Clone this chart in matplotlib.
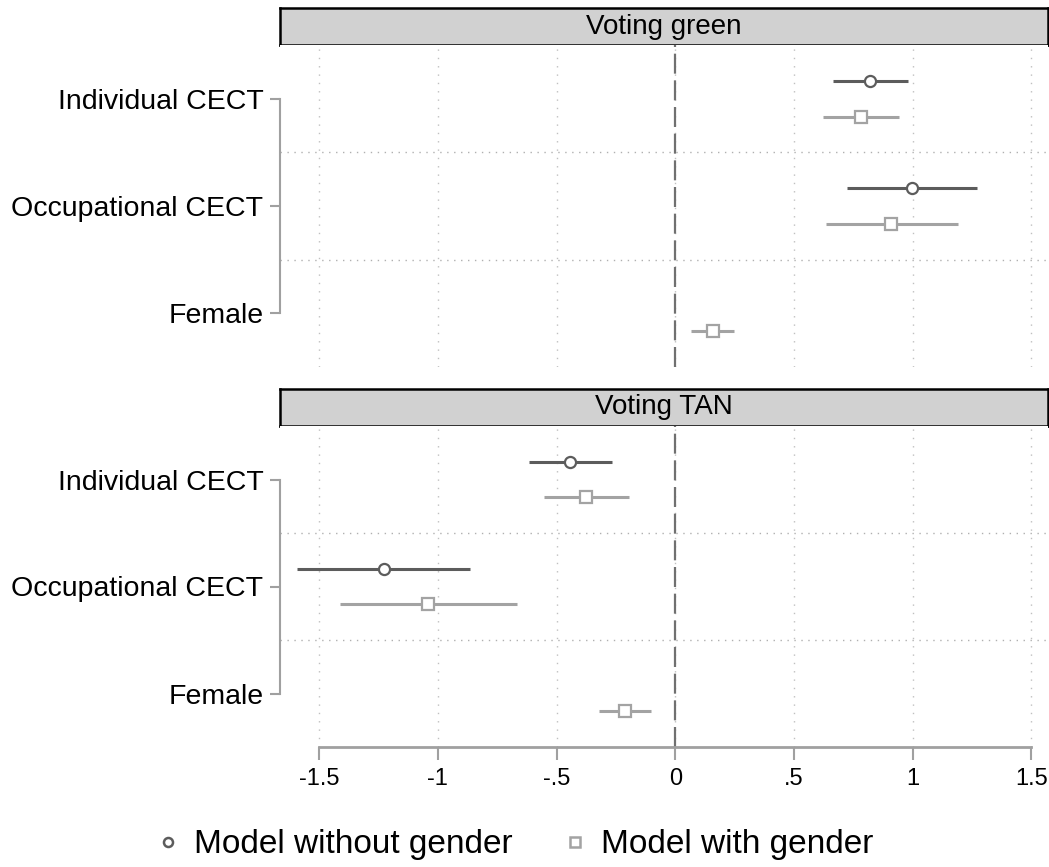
import matplotlib.pyplot as plt
from matplotlib.lines import Line2D

plt.rcParams['font.family'] = ['Liberation Sans', 'DejaVu Sans']

# coefficients and 95% intervals, rows: Individual CECT, Occupational CECT, Female
categories = ['Individual CECT', 'Occupational CECT', 'Female']
panels = ['Voting green', 'Voting TAN']

green_wo = [0.822, 0.997, None]
green_wo_lo = [0.665, 0.722, None]
green_wo_hi = [0.979, 1.273, None]
green_w = [0.781, 0.910, 0.157]
green_w_lo = [0.622, 0.634, 0.066]
green_w_hi = [0.941, 1.191, 0.249]

tan_wo = [-0.442, -1.228, None]
tan_wo_lo = [-0.618, -1.592, None]
tan_wo_hi = [-0.267, -0.863, None]
tan_w = [-0.374, -1.040, -0.212]
tan_w_lo = [-0.552, -1.412, -0.320]
tan_w_hi = [-0.195, -0.666, -0.104]

xticks = [-1.5, -1, -0.5, 0, 0.5, 1, 1.5]
xticklabels = ['-1.5', '-1', '-.5', '0', '.5', '1', '1.5']

DARK = '#5c5c5c'
LIGHT = '#a3a3a3'
AXIS_GRAY = '#a0a0a0'

fig = plt.figure(figsize=(10.49, 8.67), dpi=100)

W, H = 1049, 867
left = 280 / W
width = (1048 - 280) / W


def fy(top, bottom):
    return 1 - bottom / H, (bottom - top) / H


def draw_series(ax, est, lo, hi, offset, color, marker):
    for i, (e, l, h) in enumerate(zip(est, lo, hi)):
        if e is None:
            continue
        y = i + 1 + offset
        ax.plot([l, h], [y, y], color=color, lw=2.2, solid_capstyle='butt', zorder=3)
        ax.plot([e], [y], marker=marker, ms=8 if marker == 'o' else 8.5,
                mfc='white', mec=color, mew=1.6, ls='none', zorder=4)


layout = [((8, 45), (45, 367)), ((389, 426), (426, 747))]
data = [
    (green_wo, green_wo_lo, green_wo_hi, green_w, green_w_lo, green_w_hi),
    (tan_wo, tan_wo_lo, tan_wo_hi, tan_w, tan_w_lo, tan_w_hi),
]

for k, (title, (hdr, body), d) in enumerate(zip(panels, layout, data)):
    # header strip
    b, h = fy(*hdr)
    hax = fig.add_axes([left, b, width, h])
    hax.set_facecolor('#d1d1d1')
    hax.set_xticks([])
    hax.set_yticks([])
    for s in hax.spines.values():
        s.set_color('black')
        s.set_linewidth(1.8)
    hax.text(0.5, 0.5, title, ha='center', va='center', fontsize=20,
             transform=hax.transAxes)

    b, h = fy(*body)
    ax = fig.add_axes([left, b, width, h])
    ax.set_xlim(-1.665, 1.57)
    ax.set_ylim(3.5, 0.5)

    for x in xticks:
        ax.axvline(x, color='#c0c0c0', lw=1, ls=(0, (1, 5)), zorder=1)
    for y in [1.5, 2.5]:
        ax.axhline(y, color='#b0b0b0', lw=1, ls=(0, (1, 4)), zorder=1)
    ax.axvline(0, color='#707070', lw=1.6, ls=(0, (9, 3)), zorder=2)

    wo, wo_lo, wo_hi, w, w_lo, w_hi = d
    draw_series(ax, wo, wo_lo, wo_hi, -0.167, DARK, 'o')
    draw_series(ax, w, w_lo, w_hi, 0.167, LIGHT, 's')

    for s in ['top', 'right']:
        ax.spines[s].set_visible(False)
    ax.spines['left'].set_bounds(1, 3)
    ax.spines['left'].set_color(AXIS_GRAY)
    ax.spines['left'].set_linewidth(1.5)
    ax.set_yticks([1, 2, 3])
    ax.set_yticklabels(categories, fontsize=20.5)
    ax.tick_params(axis='y', length=7, width=1.5, color=AXIS_GRAY, pad=5)

    if k == 1:
        ax.spines['bottom'].set_bounds(-1.5, 1.5)
        ax.spines['bottom'].set_color(AXIS_GRAY)
        ax.spines['bottom'].set_linewidth(2)
        ax.set_xticks(xticks)
        ax.set_xticklabels(xticklabels, fontsize=17)
        ax.tick_params(axis='x', length=9, width=1.5, color=AXIS_GRAY, pad=6)
    else:
        ax.spines['bottom'].set_visible(False)
        ax.set_xticks([])

handles = [
    Line2D([], [], marker='o', ls='none', mfc='white', mec=DARK, mew=1.8, ms=6.5),
    Line2D([], [], marker='s', ls='none', mfc='white', mec=LIGHT, mew=1.8, ms=6.5),
]
fig.legend(handles, ['Model without gender', 'Model with gender'],
           loc='center', bbox_to_anchor=(0.4885, 1 - 845 / H), ncol=2,
           frameon=False, fontsize=24, handletextpad=0.3, columnspacing=1.35,
           handlelength=1.0)

fig.savefig('out.png', dpi=100)
